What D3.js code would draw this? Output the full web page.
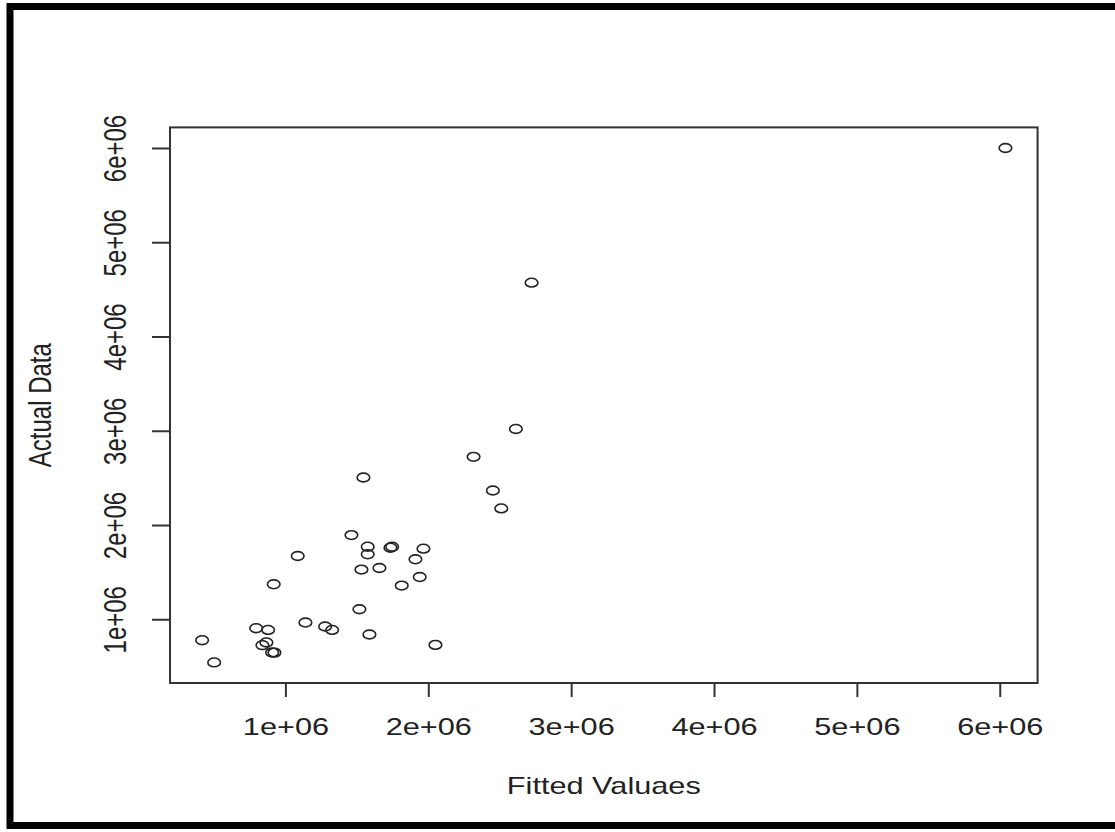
<!DOCTYPE html>
<html>
<head>
<meta charset="utf-8">
<script src="https://cdn.jsdelivr.net/npm/d3@7"></script>
<style>
  body { margin: 0; background: #fff; }
  text { font-family: "Liberation Sans", Arial, sans-serif; fill: #222; }
</style>
</head>
<body>
<div id="chart"></div>
<script>
// values (in units of 1e6)
var fittedValues = [6.040, 2.723, 2.613, 2.317, 2.452, 2.511, 1.546, 1.462, 1.576, 1.576,
  1.735, 1.747, 1.966, 1.910, 1.086, 1.532, 1.658, 1.940, 1.814, 0.918,
  1.518, 1.140, 1.278, 1.327, 0.795, 0.879, 1.588, 2.050, 0.417, 0.839,
  0.867, 0.907, 0.923, 0.501];
var actualData = [6.000, 4.571, 3.019, 2.723, 2.366, 2.176, 2.504, 1.893, 1.770, 1.689,
  1.759, 1.770, 1.749, 1.636, 1.671, 1.527, 1.544, 1.448, 1.357, 1.371,
  1.106, 0.965, 0.923, 0.887, 0.905, 0.887, 0.838, 0.728, 0.778, 0.725,
  0.754, 0.648, 0.646, 0.542];
var xTicks = [1e6, 2e6, 3e6, 4e6, 5e6, 6e6];
var yTicks = [1e6, 2e6, 3e6, 4e6, 5e6, 6e6];
var xTitle = "Fitted Valuaes";
var yTitle = "Actual Data";

var data = fittedValues.map(function(d, i) {
  return { fitted: d * 1e6, actual: actualData[i] * 1e6 };
});

// page and plot box
var W = 1115, H = 832;
var plot = { left: 170, right: 1037.6, top: 127.4, bottom: 683 };
var sx = 1.28; // the picture is stretched sideways

var svg = d3.select("#chart")
  .append("svg")
    .attr("width", W)
    .attr("height", H);

// R style: extend the data range by 4% on each side
function rRange(vals) {
  var lo = d3.min(vals), hi = d3.max(vals), pad = (hi - lo) * 0.04;
  return [lo - pad, hi + pad];
}

var x = d3.scaleLinear()
  .domain(rRange(data.map(function(d) { return d.fitted; })))
  .range([plot.left, plot.right]);

var y = d3.scaleLinear()
  .domain(rRange(data.map(function(d) { return d.actual; })))
  .range([plot.bottom, plot.top]);

function sci(v) { return Math.round(v / 1e6) + "e+06"; }

// outer frame
svg.append("rect")
  .attr("x", 10).attr("y", 6.5)
  .attr("width", 1300).attr("height", 819)
  .attr("fill", "none")
  .attr("stroke", "#000")
  .attr("stroke-width", 7);

// X axis
var xAxis = svg.append("g")
  .attr("transform", "translate(0," + plot.bottom + ")")
  .call(d3.axisBottom(x).tickValues(xTicks).tickSize(14).tickFormat(sci));
xAxis.select(".domain").remove();
xAxis.selectAll(".tick line").attr("stroke", "#333").attr("stroke-width", 2);
xAxis.selectAll(".tick text")
  .attr("y", 52).attr("dy", 0)
  .attr("transform", "scale(" + sx + ",1)")
  .style("font-size", "24px")
  .attr("fill", "#222");

// Y axis
var yAxis = svg.append("g")
  .attr("transform", "translate(" + plot.left + ",0)")
  .call(d3.axisLeft(y).tickValues(yTicks).tickSize(18).tickFormat(sci));
yAxis.select(".domain").remove();
yAxis.selectAll(".tick line").attr("stroke", "#333").attr("stroke-width", 2);
yAxis.selectAll(".tick text")
  .attr("x", 0).attr("y", -34.5).attr("dy", 0)
  .attr("text-anchor", "middle")
  .attr("transform", "scale(" + sx + ",1) rotate(-90)")
  .style("font-size", "24px")
  .attr("fill", "#222");

// plot box
svg.append("rect")
  .attr("x", plot.left).attr("y", plot.top)
  .attr("width", plot.right - plot.left)
  .attr("height", plot.bottom - plot.top)
  .attr("fill", "none")
  .attr("stroke", "#333")
  .attr("stroke-width", 2);

// axis titles
svg.append("text")
  .attr("text-anchor", "middle")
  .attr("transform", "translate(" + ((plot.left + plot.right) / 2) + ",794) scale(" + sx + ",1)")
  .style("font-size", "24px")
  .text(xTitle);

svg.append("text")
  .attr("text-anchor", "middle")
  .attr("transform", "translate(51," + ((plot.top + plot.bottom) / 2) + ") scale(" + sx + ",1) rotate(-90)")
  .style("font-size", "24px")
  .text(yTitle);

// points (open circles, stretched like the rest)
svg.append("g")
  .selectAll("ellipse")
  .data(data)
  .enter()
  .append("ellipse")
    .attr("cx", function(d) { return x(d.fitted); })
    .attr("cy", function(d) { return y(d.actual); })
    .attr("rx", 6.3)
    .attr("ry", 4.4)
    .attr("fill", "none")
    .attr("stroke", "#222")
    .attr("stroke-width", 1.6);
</script>
</body>
</html>
